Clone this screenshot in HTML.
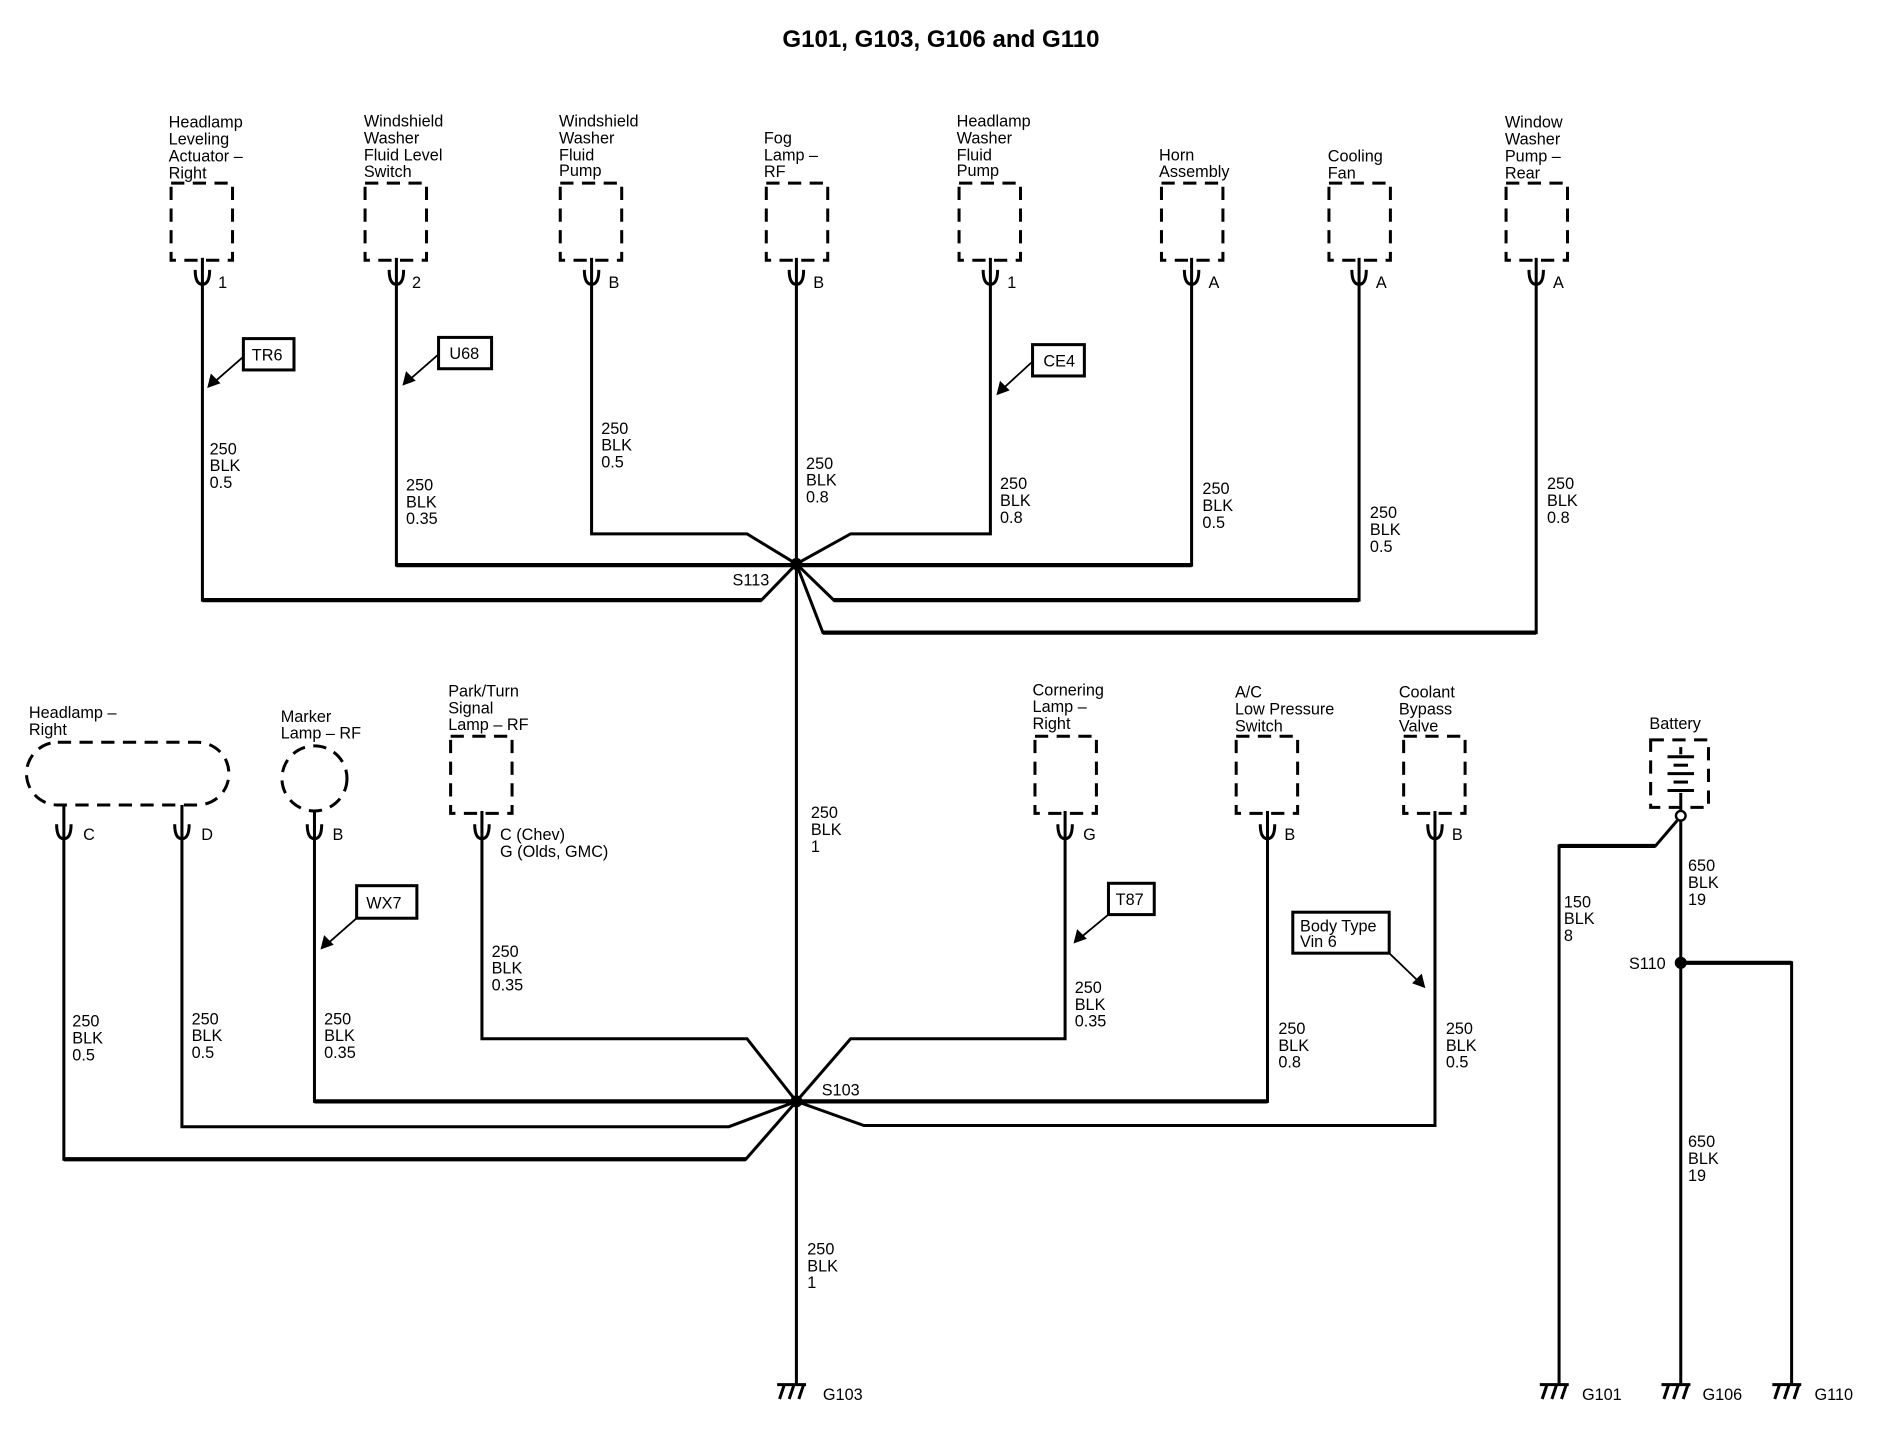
<!DOCTYPE html>
<html><head><meta charset="utf-8"><style>
html,body{margin:0;padding:0;background:#fff;}
svg{display:block}
text{font-family:"Liberation Sans Narrow","Liberation Sans",sans-serif;font-size:13.5px;fill:#000}
</style></head><body>
<svg width="1888" height="1440" viewBox="0 0 1567 1195" preserveAspectRatio="none" xmlns="http://www.w3.org/2000/svg">
<rect width="1567" height="1195" fill="#fff"/>
<text x="781" y="39" text-anchor="middle" style="font-family:'Liberation Sans',sans-serif;font-size:20px;font-weight:bold">G101, G103, G106 and G110</text>

<g fill="none" stroke="#000" stroke-width="2.5" stroke-dasharray="11 7">
<rect x="142" y="152" width="51" height="64"/>
<rect x="303" y="152" width="51" height="64"/>
<rect x="465" y="152" width="51" height="64"/>
<rect x="636" y="152" width="51" height="64"/>
<rect x="796" y="152" width="51" height="64"/>
<rect x="964" y="152" width="51" height="64"/>
<rect x="1103" y="152" width="51" height="64"/>
<rect x="1250" y="152" width="51" height="64"/>
<rect x="374" y="611" width="51" height="64"/>
<rect x="859" y="611" width="51" height="64"/>
<rect x="1026" y="611" width="51" height="64"/>
<rect x="1165" y="611" width="51" height="64"/>
<rect x="1370" y="614" width="48" height="56"/>
<rect x="22" y="616" width="168" height="52" rx="26"/>
<circle cx="261" cy="646" r="27"/>
</g>

<g fill="none" stroke="#000" stroke-width="2.5">
<path d="M168 214V236M162 224Q162 236 168 236Q174 236 174 224"/>
<path d="M329 214V236M323 224Q323 236 329 236Q335 236 335 224"/>
<path d="M491 214V236M485 224Q485 236 491 236Q497 236 497 224"/>
<path d="M661 214V236M655 224Q655 236 661 236Q667 236 667 224"/>
<path d="M822 214V236M816 224Q816 236 822 236Q828 236 828 224"/>
<path d="M989 214V236M983 224Q983 236 989 236Q995 236 995 224"/>
<path d="M1128 214V236M1122 224Q1122 236 1128 236Q1134 236 1134 224"/>
<path d="M1275 214V236M1269 224Q1269 236 1275 236Q1281 236 1281 224"/>
<path d="M53 668V696M47 684Q47 696 53 696Q59 696 59 684"/>
<path d="M151 668V696M145 684Q145 696 151 696Q157 696 157 684"/>
<path d="M261 673V696M255 684Q255 696 261 696Q267 696 267 684"/>
<path d="M400 673V696M394 684Q394 696 400 696Q406 696 406 684"/>
<path d="M884 673V696M878 684Q878 696 884 696Q890 696 890 684"/>
<path d="M1052 673V696M1046 684Q1046 696 1052 696Q1058 696 1058 684"/>
<path d="M1191 673V696M1185 684Q1185 696 1191 696Q1197 696 1197 684"/>
</g>

<g stroke="#000" stroke-width="2.5">
<line x1="1395" y1="620" x2="1395" y2="626"/>
<line x1="1384" y1="628" x2="1406" y2="628"/>
<line x1="1389" y1="635" x2="1401" y2="635"/>
<line x1="1384" y1="642" x2="1406" y2="642"/>
<line x1="1389" y1="649" x2="1401" y2="649"/>
<line x1="1384" y1="656" x2="1406" y2="656"/>
<line x1="1395" y1="658" x2="1395" y2="673"/>
</g>
<circle cx="1395" cy="677" r="4" fill="#fff" stroke="#000" stroke-width="2"/>

<g fill="none" stroke="#000" stroke-width="2.5">
<polyline points="168,236 168,498 632,498 661,468"/>
<polyline points="329,236 329,469 661,469"/>
<polyline points="491,236 491,443 620,443 661,468"/>
<polyline points="661,236 661,1148"/>
<polyline points="822,236 822,443 706,443 661,468"/>
<polyline points="989,236 989,469 661,469"/>
<polyline points="1128,236 1128,498 692,498 661,468"/>
<polyline points="1275,236 1275,525 683,525 661,468"/>
<polyline points="53,696 53,962 619,962 661,914"/>
<polyline points="151,696 151,935 605,935 661,914"/>
<polyline points="261,696 261,914 661,914"/>
<polyline points="400,696 400,862 620,862 661,914"/>
<polyline points="884,696 884,862 706,862 661,914"/>
<polyline points="1052,696 1052,914 661,914"/>
<polyline points="1191,696 1191,934 717,934 661,914"/>
<polyline points="1395,681 1395,1148"/>
<polyline points="1392,681 1374,702 1294,702 1294,1148"/>
<polyline points="1395,799 1487,799 1487,1148"/>
</g>
<g stroke="#000" stroke-width="3.5">
<line x1="168" y1="498" x2="632" y2="498"/>
<line x1="329" y1="469" x2="989" y2="469"/>
<line x1="692" y1="498" x2="1128" y2="498"/>
<line x1="683" y1="525" x2="1275" y2="525"/>
<line x1="53" y1="962" x2="619" y2="962"/>
<line x1="261" y1="914" x2="1052" y2="914"/>
<line x1="1294" y1="702" x2="1374" y2="702"/>
<line x1="1395" y1="799" x2="1487" y2="799"/>
</g>
<circle cx="661" cy="468" r="5" fill="#000"/>
<circle cx="661" cy="914" r="5" fill="#000"/>
<circle cx="1395" cy="799" r="5" fill="#000"/>

<g stroke="#000" stroke-width="2.5" fill="none">
<path d="M645 1149H669M651 1149L647 1161M659 1149L655 1161M667 1149L663 1161"/>
<path d="M1278 1149H1302M1284 1149L1280 1161M1292 1149L1288 1161M1300 1149L1296 1161"/>
<path d="M1379 1149H1403M1385 1149L1381 1161M1393 1149L1389 1161M1401 1149L1397 1161"/>
<path d="M1471 1149H1495M1477 1149L1473 1161M1485 1149L1481 1161M1493 1149L1489 1161"/>
</g>
<text x="683" y="1162">G103</text>
<text x="1313" y="1162">G101</text>
<text x="1413" y="1162">G106</text>
<text x="1506" y="1162">G110</text>

<g fill="#fff" stroke="#000" stroke-width="2.5">
<rect x="202" y="281" width="42" height="26"/>
<rect x="364" y="280" width="44" height="26"/>
<rect x="857" y="286" width="43" height="26"/>
<rect x="296" y="735" width="50" height="27"/>
<rect x="920" y="733" width="38" height="26"/>
<rect x="1073" y="757" width="80" height="34"/>
</g>
<g stroke="#000" stroke-width="1.5">
<line x1="202" y1="296" x2="178" y2="317"/>
<line x1="364" y1="294" x2="340" y2="315"/>
<line x1="857" y1="300" x2="833" y2="322"/>
<line x1="296" y1="762" x2="272" y2="783"/>
<line x1="920" y1="759" x2="897" y2="778"/>
<line x1="1153" y1="791" x2="1178" y2="815"/>
</g>
<g fill="#000">
<polygon points="172,322 175,310 183,318"/>
<polygon points="334,320 337,308 345,316"/>
<polygon points="827,328 830,316 838,324"/>
<polygon points="266,788 269,776 277,784"/>
<polygon points="891,783 894,771 902,779"/>
<polygon points="1183,820 1172,816 1180,808"/>
</g>
<text x="209" y="299">TR6</text>
<text x="373" y="298">U68</text>
<text x="866" y="304">CE4</text>
<text x="304" y="754">WX7</text>
<text x="926" y="751">T87</text>
<text x="1079" y="773">Body Type</text>
<text x="1079" y="786">Vin 6</text>

<text x="140" y="106">Headlamp</text><text x="140" y="120">Leveling</text><text x="140" y="134">Actuator –</text><text x="140" y="148">Right</text>
<text x="302" y="105">Windshield</text><text x="302" y="119">Washer</text><text x="302" y="133">Fluid Level</text><text x="302" y="147">Switch</text>
<text x="464" y="105">Windshield</text><text x="464" y="119">Washer</text><text x="464" y="133">Fluid</text><text x="464" y="146">Pump</text>
<text x="634" y="119">Fog</text><text x="634" y="133">Lamp –</text><text x="634" y="147">RF</text>
<text x="794" y="105">Headlamp</text><text x="794" y="119">Washer</text><text x="794" y="133">Fluid</text><text x="794" y="146">Pump</text>
<text x="962" y="133">Horn</text><text x="962" y="147">Assembly</text>
<text x="1102" y="134">Cooling</text><text x="1102" y="148">Fan</text>
<text x="1249" y="106">Window</text><text x="1249" y="120">Washer</text><text x="1249" y="134">Pump –</text><text x="1249" y="148">Rear</text>

<text x="24" y="596">Headlamp –</text><text x="24" y="610">Right</text>
<text x="233" y="599">Marker</text><text x="233" y="613">Lamp – RF</text>
<text x="372" y="578">Park/Turn</text><text x="372" y="592">Signal</text><text x="372" y="606">Lamp – RF</text>
<text x="857" y="577">Cornering</text><text x="857" y="591">Lamp –</text><text x="857" y="605">Right</text>
<text x="1025" y="579">A/C</text><text x="1025" y="593">Low Pressure</text><text x="1025" y="607">Switch</text>
<text x="1161" y="579">Coolant</text><text x="1161" y="593">Bypass</text><text x="1161" y="607">Valve</text>
<text x="1369" y="605">Battery</text>

<text x="181" y="239">1</text><text x="342" y="239">2</text><text x="505" y="239">B</text><text x="675" y="239">B</text>
<text x="836" y="239">1</text><text x="1003" y="239">A</text><text x="1142" y="239">A</text><text x="1289" y="239">A</text>
<text x="69" y="697">C</text><text x="167" y="697">D</text><text x="276" y="697">B</text>
<text x="415" y="697">C (Chev)</text><text x="415" y="711">G (Olds, GMC)</text>
<text x="899" y="697">G</text><text x="1066" y="697">B</text><text x="1205" y="697">B</text>

<g>
<text x="174" y="377">250</text><text x="174" y="391">BLK</text><text x="174" y="405">0.5</text>
<text x="337" y="407">250</text><text x="337" y="421">BLK</text><text x="337" y="435">0.35</text>
<text x="499" y="360">250</text><text x="499" y="374">BLK</text><text x="499" y="388">0.5</text>
<text x="669" y="389">250</text><text x="669" y="403">BLK</text><text x="669" y="417">0.8</text>
<text x="830" y="406">250</text><text x="830" y="420">BLK</text><text x="830" y="434">0.8</text>
<text x="998" y="410">250</text><text x="998" y="424">BLK</text><text x="998" y="438">0.5</text>
<text x="1137" y="430">250</text><text x="1137" y="444">BLK</text><text x="1137" y="458">0.5</text>
<text x="1284" y="406">250</text><text x="1284" y="420">BLK</text><text x="1284" y="434">0.8</text>
<text x="608" y="486">S113</text>
<text x="673" y="679">250</text><text x="673" y="693">BLK</text><text x="673" y="707">1</text>
<text x="60" y="852">250</text><text x="60" y="866">BLK</text><text x="60" y="880">0.5</text>
<text x="159" y="850">250</text><text x="159" y="864">BLK</text><text x="159" y="878">0.5</text>
<text x="269" y="850">250</text><text x="269" y="864">BLK</text><text x="269" y="878">0.35</text>
<text x="408" y="794">250</text><text x="408" y="808">BLK</text><text x="408" y="822">0.35</text>
<text x="892" y="824">250</text><text x="892" y="838">BLK</text><text x="892" y="852">0.35</text>
<text x="1061" y="858">250</text><text x="1061" y="872">BLK</text><text x="1061" y="886">0.8</text>
<text x="1200" y="858">250</text><text x="1200" y="872">BLK</text><text x="1200" y="886">0.5</text>
<text x="682" y="909">S103</text>
<text x="670" y="1041">250</text><text x="670" y="1055">BLK</text><text x="670" y="1069">1</text>
<text x="1298" y="753">150</text><text x="1298" y="767">BLK</text><text x="1298" y="781">8</text>
<text x="1401" y="723">650</text><text x="1401" y="737">BLK</text><text x="1401" y="751">19</text>
<text x="1352" y="804">S110</text>
<text x="1401" y="952">650</text><text x="1401" y="966">BLK</text><text x="1401" y="980">19</text>
</g>
</svg>
</body></html>
